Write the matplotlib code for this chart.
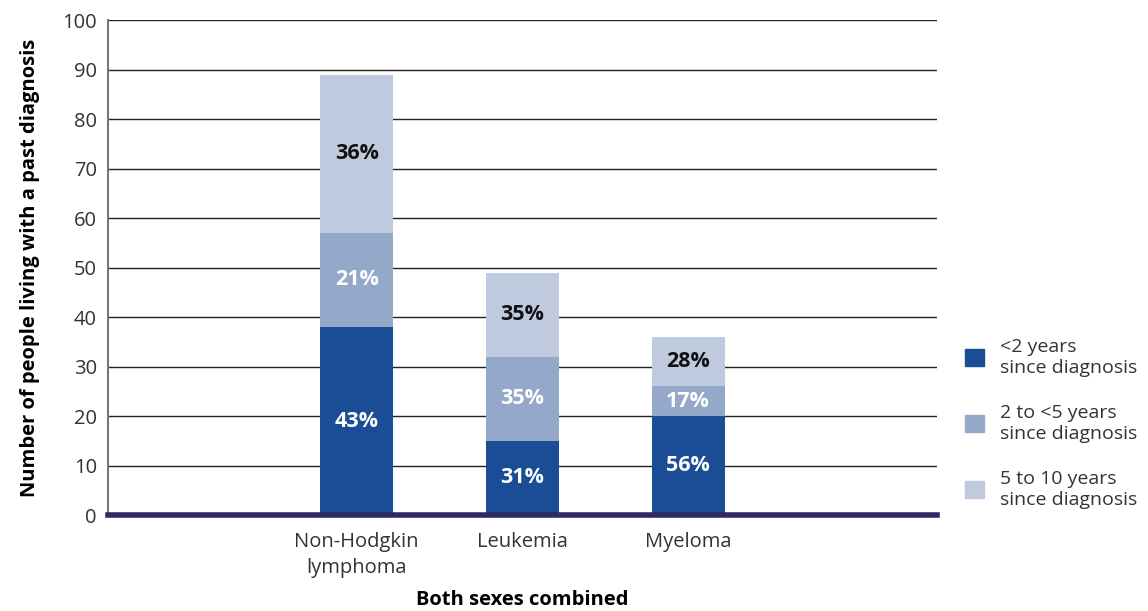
import matplotlib
matplotlib.use("Agg")
import matplotlib.pyplot as plt
from matplotlib.patches import Patch
import numpy as np

plt.rcParams['font.family'] = ['Open Sans', 'DejaVu Sans']

cancers = ["Non-Hodgkin\nlymphoma", "Leukemia", "Myeloma"]
under_2 = [38, 15, 20]
two_to_5 = [19, 17, 6]
five_to_10 = [32, 17, 10]
series_labels = ["<2 years\nsince diagnosis", "2 to <5 years\nsince diagnosis",
                 "5 to 10 years\nsince diagnosis"]
colors = ["#1b4c96", "#94a8ca", "#bfcadf"]
text_colors = ["white", "white", "#111111"]

fig = plt.figure(figsize=(11.48, 6.11), dpi=100)
ax = fig.add_axes([0.094, 0.157, 0.722, 0.81])

x = np.arange(len(cancers))
series = [under_2, two_to_5, five_to_10]
totals = np.sum(series, axis=0)
bottom = np.zeros(len(cancers))
for vals, col, tcol in zip(series, colors, text_colors):
    vals = np.array(vals)
    ax.bar(x, vals, width=0.44, bottom=bottom, color=col, zorder=3)
    for xi, b, v, t in zip(x, bottom, vals, totals):
        ax.text(xi, b + v / 2, f"{round(100 * v / t)}%", ha="center", va="center",
                color=tcol, fontsize=15.5, fontweight="bold", zorder=4)
    bottom += vals

ax.set_xlim(-1.5, 3.5)
ax.set_ylim(0, 100)
ax.set_yticks(range(0, 101, 10))
ax.set_xticks(x)
ax.set_xticklabels(cancers, fontsize=14.5, color="#333333", linespacing=1.45)
ax.tick_params(axis="y", labelsize=14.5, labelcolor="#333333", length=0, pad=8)
ax.tick_params(axis="x", length=0, pad=12)
ax.yaxis.grid(True, color="#222222", linewidth=1.0, zorder=1)
ax.set_axisbelow(True)

for side in ["top", "right"]:
    ax.spines[side].set_visible(False)
ax.spines["left"].set_color("#777777")
ax.spines["left"].set_linewidth(1.5)
ax.spines["bottom"].set_color("#2e2a62")
ax.spines["bottom"].set_linewidth(4)
ax.spines["bottom"].set_zorder(5)

ax.set_ylabel("Number of people living with a past diagnosis", fontsize=14.5,
              fontweight="bold", labelpad=16)
ax.set_xlabel("Both sexes combined", fontsize=14.5, fontweight="bold", labelpad=8)

handles = [Patch(color=c) for c in colors]
leg = fig.legend(handles, series_labels, loc="upper left", bbox_to_anchor=(0.841, 0.447),
                 frameon=False, fontsize=14, handlelength=0.95, handleheight=0.95,
                 labelspacing=1.4, handletextpad=0.85, borderpad=0, borderaxespad=0,
                 labelcolor="#333333")

fig.savefig("out.png", dpi=100)
